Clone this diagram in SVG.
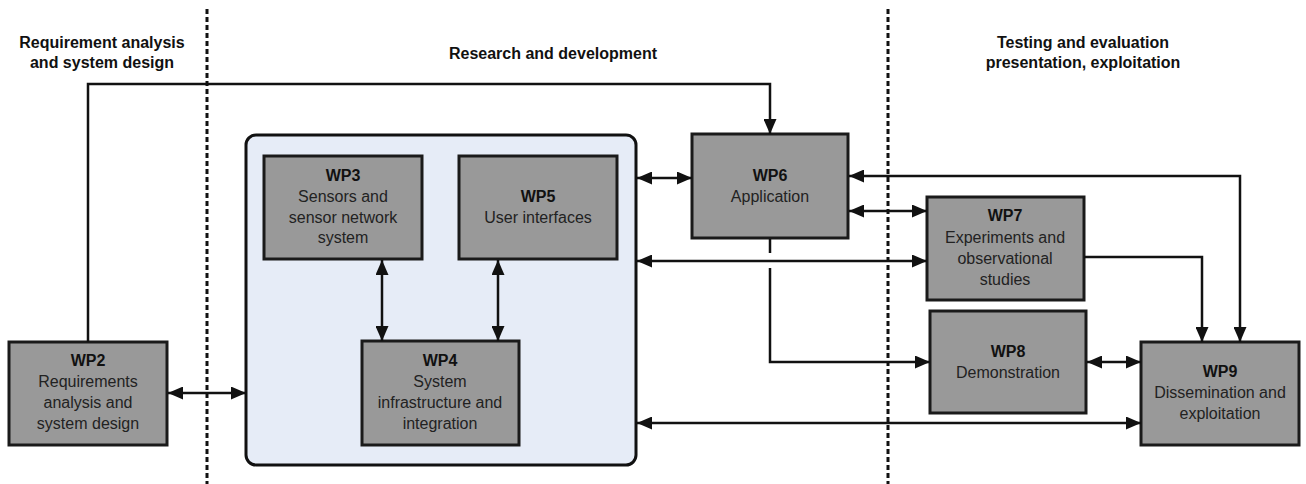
<svg xmlns="http://www.w3.org/2000/svg" width="1306" height="484" viewBox="0 0 1306 484">
  <style>
    .phase { font-family: "Liberation Sans", Arial, sans-serif; font-size: 16px; font-weight: bold; fill: #111; text-anchor: middle; }
    .wp { fill: #999999; stroke: #1a1a1a; stroke-width: 3; }
    .title { font-family: "Liberation Sans", Arial, sans-serif; font-size: 16px; font-weight: bold; fill: #111; text-anchor: middle; }
    .body { font-family: "Liberation Sans", Arial, sans-serif; font-size: 16px; fill: #222; text-anchor: middle; }
    .divider { stroke: #111; stroke-width: 3; stroke-dasharray: 5 3; fill: none; }
    .wire { stroke: #111; stroke-width: 2.5; fill: none; }
    .one { marker-end: url(#head); }
    .two { marker-start: url(#head); marker-end: url(#head); }
  </style>
  <defs>
    <marker id="head" viewBox="0 0 15 13" refX="15" refY="6.5" markerWidth="15" markerHeight="13" markerUnits="userSpaceOnUse" orient="auto-start-reverse">
      <path d="M0,0 L15,6.5 L0,13 z" fill="#111"/>
    </marker>
  </defs>

  <rect x="0" y="0" width="1306" height="484" fill="#ffffff"/>

  <!-- phase dividers -->
  <g id="dividers">
    <line class="divider" x1="207" y1="9" x2="207" y2="484"/>
    <line class="divider" x1="888" y1="9" x2="888" y2="484"/>
  </g>

  <!-- phase headings -->
  <g id="headings">
    <text class="phase" x="102" y="48">Requirement analysis</text>
    <text class="phase" x="102" y="68">and system design</text>
    <text class="phase" x="553" y="59">Research and development</text>
    <text class="phase" x="1083" y="48">Testing and evaluation</text>
    <text class="phase" x="1083" y="68">presentation, exploitation</text>
  </g>

  <!-- research and development container -->
  <g id="rnd-group">
    <rect x="246" y="135" width="390" height="330" rx="10" ry="10" fill="#e6ecf7" stroke="#111" stroke-width="3"/>
  </g>

  <g id="wp2">
    <rect class="wp" x="9" y="342" width="158" height="103"/>
    <text class="title" x="88" y="366">WP2</text>
    <text class="body" x="88" y="387">Requirements</text>
    <text class="body" x="88" y="408">analysis and</text>
    <text class="body" x="88" y="429">system design</text>
  </g>

  <g id="wp3">
    <rect class="wp" x="264" y="156" width="158" height="103"/>
    <text class="title" x="343" y="181">WP3</text>
    <text class="body" x="343" y="202">Sensors and</text>
    <text class="body" x="343" y="223">sensor network</text>
    <text class="body" x="343" y="243">system</text>
  </g>

  <g id="wp5">
    <rect class="wp" x="459" y="156" width="158" height="103"/>
    <text class="title" x="538" y="202">WP5</text>
    <text class="body" x="538" y="223">User interfaces</text>
  </g>

  <g id="wp4">
    <rect class="wp" x="362" y="341" width="157" height="104"/>
    <text class="title" x="440" y="366">WP4</text>
    <text class="body" x="440" y="387">System</text>
    <text class="body" x="440" y="408">infrastructure and</text>
    <text class="body" x="440" y="429">integration</text>
  </g>

  <g id="wp6">
    <rect class="wp" x="692" y="134" width="156" height="104"/>
    <text class="title" x="770" y="181">WP6</text>
    <text class="body" x="770" y="202">Application</text>
  </g>

  <g id="wp7">
    <rect class="wp" x="927" y="197" width="157" height="103"/>
    <text class="title" x="1005" y="221">WP7</text>
    <text class="body" x="1005" y="243">Experiments and</text>
    <text class="body" x="1005" y="264">observational</text>
    <text class="body" x="1005" y="285">studies</text>
  </g>

  <g id="wp8">
    <rect class="wp" x="930" y="311" width="156" height="102"/>
    <text class="title" x="1008" y="357">WP8</text>
    <text class="body" x="1008" y="378">Demonstration</text>
  </g>

  <g id="wp9">
    <rect class="wp" x="1141" y="342" width="158" height="103"/>
    <text class="title" x="1220" y="377">WP9</text>
    <text class="body" x="1220" y="398">Dissemination and</text>
    <text class="body" x="1220" y="419">exploitation</text>
  </g>

  <!-- connectors -->
  <g id="connectors">
    <path class="wire one" d="M88,342 V84 H770 V134"/>
    <path class="wire two" d="M168,393 H246"/>
    <path class="wire two" d="M382,260 V341"/>
    <path class="wire two" d="M498,260 V341"/>
    <path class="wire two" d="M637,178 H692"/>
    <path class="wire two" d="M1240,342 V176 H849"/>
    <path class="wire two" d="M849,211 H927"/>
    <path class="wire two" d="M637,261 H927"/>
    <path class="wire one" d="M1084,257 H1202 V342"/>
    <path class="wire one" d="M770,239 V253 M770,268 V362 H930"/>
    <path class="wire two" d="M1087,362 H1141"/>
    <path class="wire two" d="M637,423 H1141"/>
  </g>
</svg>
